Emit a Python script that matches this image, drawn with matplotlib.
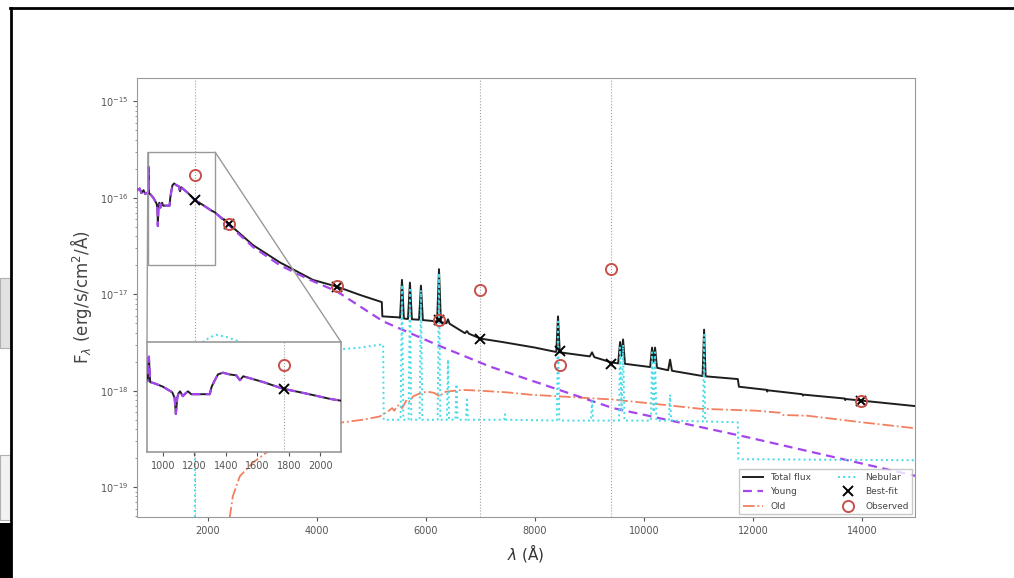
import matplotlib
matplotlib.use('Agg')
import matplotlib.pyplot as plt
from matplotlib.lines import Line2D
from matplotlib.patches import Rectangle
from mpl_toolkits.axes_grid1.inset_locator import mark_inset

# all fluxes in units of 1e-18 erg/s/cm2/A
scale = 1e-18

# UV part, shared by total and young (they overlap there)
uv_wave = [700, 750, 780, 820, 850, 880, 905, 912, 920, 950, 1000, 1060, 1075,
           1083, 1092, 1100, 1110, 1127, 1145, 1160, 1180, 1214, 1298, 1310,
           1330, 1350, 1381, 1424, 1466, 1489, 1510, 1636, 1762, 1900, 2060, 2124]
uv_flux = [120, 125, 112, 120, 110, 112, 115, 209, 112, 108, 100, 87, 76,
           51, 76, 85, 89, 79, 85, 89, 83, 83, 83, 100,
           117, 135, 141, 135, 132, 117, 129, 112, 95, 85, 74, 71]

total_wave = [2404, 2826, 3321, 3927, 4367, 4800, 5190, 5200, 5523,
              5525, 5560, 5595, 5670, 5706, 5742, 5873, 5908, 5943, 6100,
              6204, 6239, 6274, 6375, 6404, 6433, 6715, 6752, 6789,
              7000, 7400, 8000, 8390, 8422, 8454, 9005, 9046, 9087, 9394,
              9525, 9560, 9588, 9615, 9650, 10112, 10147, 10175, 10202, 10237,
              10442, 10477, 10512, 11073, 11101, 11129, 11720, 11740,
              12250, 12260, 12270, 12900, 12915, 12930, 13680, 13690, 13700,
              13982, 15000]
total_flux = [52.5, 32.4, 21.4, 14.1, 12.0, 9.8, 8.3, 5.9, 5.75,
              5.7, 14.1, 5.6, 5.55, 13.2, 5.5, 5.45, 12.3, 5.4, 5.3,
              5.2, 18.2, 5.15, 5.0, 5.5, 4.95, 3.95, 4.15, 3.9,
              3.47, 3.2, 2.8, 2.52, 5.9, 2.5, 2.27, 2.5, 2.23, 1.97,
              1.92, 3.2, 2.3, 3.4, 1.9, 1.76, 2.8, 2.0, 2.8, 1.73,
              1.63, 2.1, 1.61, 1.42, 4.3, 1.41, 1.32, 1.10,
              1.02, 0.98, 1.01, 0.92, 0.89, 0.91, 0.83, 0.80, 0.82,
              0.79, 0.69]

young_wave = [2404, 2826, 3321, 3872, 4367, 5211, 6257, 7174, 9431, 11890, 15000]
young_flux = [51, 31, 20, 14.1, 10.7, 5.25, 2.9, 1.78, 0.66, 0.33, 0.13]

old_wave = [2390, 2404, 2459, 2587, 2826, 3083, 3321, 3700, 4000, 4477,
            4844, 5000, 5150, 5284, 5380, 5420, 5468, 5520, 5560, 5651,
            5700, 5761, 5850, 6018, 6150, 6257, 6320, 6385, 6679, 6991,
            7500, 7908, 8500, 9431, 10200, 11028, 12073, 12500, 12550, 13000,
            14000, 14936]
old_flux = [0.03, 0.05, 0.081, 0.13, 0.18, 0.23, 0.28, 0.38, 0.45, 0.47,
            0.50, 0.52, 0.54, 0.60, 0.66, 0.62, 0.69, 0.72, 0.66, 0.81,
            0.77, 0.87, 0.92, 0.98, 0.95, 0.87, 0.96, 0.98, 1.02, 1.00,
            0.96, 0.91, 0.87, 0.81, 0.73, 0.65, 0.62, 0.59, 0.56, 0.55,
            0.47, 0.41]

neb_wave = [1760, 1762, 1900, 2050, 2150, 2350, 2600, 3000, 3600, 4470,
            4800, 5150, 5215, 5225, 5535, 5560, 5585, 5681, 5706, 5731,
            5883, 5908, 5933, 6214, 6239, 6264, 6384, 6404, 6424,
            6540, 6560, 6580, 6732, 6752, 6772, 7430, 7450, 7470,
            8400, 8422, 8444, 9026, 9046, 9066, 9540, 9560, 9588, 9615, 9640,
            10127, 10147, 10175, 10202, 10227, 10457, 10477, 10497,
            11081, 11101, 11121, 11720, 11730, 15000]
neb_flux = [0.001, 3.0, 3.2, 3.6, 3.8, 3.6, 3.2, 2.9, 2.7, 2.7,
            2.8, 3.0, 3.0, 0.50, 0.50, 12.5, 0.50, 0.50, 11.7, 0.50,
            0.50, 11.0, 0.50, 0.50, 16.5, 0.50, 0.50, 2.1, 0.50,
            0.50, 1.17, 0.50, 0.50, 0.81, 0.50, 0.50, 0.57, 0.50,
            0.49, 5.2, 0.49, 0.49, 0.78, 0.49, 0.49, 2.8, 0.6, 3.0, 0.49,
            0.49, 2.5, 0.6, 2.5, 0.49, 0.49, 0.91, 0.49,
            0.48, 3.8, 0.48, 0.47, 0.195, 0.19]

# photometry
phot_wave = [1770, 2385, 4367, 6240, 7000, 8460, 9400, 13980]
obs_flux = [172, 53.7, 12.3, 5.35, 11.0, 1.83, 18.2, 0.79]
fit_flux = [95, 53.7, 12.0, 5.35, 3.47, 2.58, 1.91, 0.79]

vline_wave = [1770, 7000, 9400]

c_total = '#1e1e1e'
c_young = '#a445ee'
c_old = '#f2805f'
c_neb = '#45dbe8'
c_obs = '#c8504a'
grey_txt = '#555555'

fig = plt.figure(figsize=(10.14, 5.78), dpi=100)
ax = fig.add_axes([0.1351, 0.1055, 0.7673, 0.7596])


def sed(a, full=True):
    tw = uv_wave + total_wave
    tf = [v * scale for v in uv_flux + total_flux]
    yw = uv_wave + young_wave
    yf = [v * scale for v in uv_flux + young_flux]
    h = {}
    h['total'], = a.plot(tw, tf, '-', color=c_total, lw=1.4, zorder=3)
    if full:
        h['old'], = a.plot(old_wave, [v * scale for v in old_flux], '-.',
                           color=c_old, lw=1.3, zorder=3)
    h['young'], = a.plot(yw, yf, '--', color=c_young, lw=1.6,
                         dashes=(4, 2.5), zorder=4)
    if full:
        h['neb'], = a.plot(neb_wave, [v * scale for v in neb_flux], ':',
                           color=c_neb, lw=1.4, zorder=4)
    for w in vline_wave:
        a.axvline(w, color='#a0a0a0', ls=':', lw=0.8, zorder=1)
    h['fit'], = a.plot(phot_wave, [v * scale for v in fit_flux], 'x',
                       color='black', ms=7, mew=1.4, ls='none', zorder=6)
    h['obs'], = a.plot(phot_wave, [v * scale for v in obs_flux], 'o',
                       mfc='none', mec=c_obs, ms=8, mew=1.4, ls='none', zorder=6)
    return h


h = sed(ax)
ax.set_yscale('log')
ax.set_xlim(700, 14970)
ax.set_ylim(4.9e-20, 1.75e-15)
ax.set_xticks([2000, 4000, 6000, 8000, 10000, 12000, 14000])
ax.tick_params(labelsize=7, colors=grey_txt, length=3)
ax.tick_params(which='minor', colors='#888888', length=1.5)
for s in ax.spines.values():
    s.set_color('#999999')
ax.set_xlabel(r'$\lambda$ ($\rm\AA$)', fontsize=11, color='#333333')
ax.set_ylabel(r'F$_\lambda$ (erg/s/cm$^2$/$\rm\AA$)', fontsize=12,
              color='#444444', labelpad=4)

leg = ax.legend([h['total'], h['young'], h['old'], h['neb'], h['fit'], h['obs']],
                ['Total flux', 'Young', 'Old', 'Nebular', 'Best-fit', 'Observed'],
                ncol=2, loc='lower right', fontsize=6.5, frameon=True,
                handlelength=2.2, columnspacing=3.0, borderaxespad=0.3,
                labelspacing=0.6, fancybox=False)
leg.get_frame().set_edgecolor('#bbbbbb')
for t in leg.get_texts():
    t.set_color('#444444')

# inset zoom on the UV part
axins = fig.add_axes([147 / 1014, 1 - 452 / 578, 194 / 1014, 110 / 578])
sed(axins, full=False)
axins.set_yscale('log')
axins.set_xlim(900, 2130)
axins.set_ylim(2.0e-17, 3.0e-16)
axins.set_xticks([1000, 1200, 1400, 1600, 1800, 2000])
axins.set_yticks([])
axins.set_yticks([], minor=True)
axins.tick_params(labelsize=7, colors=grey_txt, length=3)
for s in axins.spines.values():
    s.set_color('#999999')
    s.set_linewidth(1.2)
axins.set_zorder(5)
mark_inset(ax, axins, loc1=1, loc2=2, fc='none', ec='#999999', lw=1.0)

# slide frame around the picture
fig.add_artist(Rectangle((0, 230 / 578), 10 / 1014, 70 / 578, transform=fig.transFigure,
                         fc='#e2e2e2', ec='#b0b0b0', lw=0.8))
fig.add_artist(Rectangle((0, 58 / 578), 10 / 1014, 65 / 578, transform=fig.transFigure,
                         fc='#f2f2f2', ec='#b0b0b0', lw=0.8))
fig.add_artist(Rectangle((0, 0), 12 / 1014, 55 / 578, transform=fig.transFigure,
                         fc='black', ec='none'))
fig.add_artist(Line2D([10 / 1014, 1], [1 - 8 / 578, 1 - 8 / 578],
                      transform=fig.transFigure, color='black', lw=2))
fig.add_artist(Line2D([11 / 1014, 11 / 1014], [0, 1 - 8 / 578],
                      transform=fig.transFigure, color='black', lw=2))

fig.savefig('out.png', dpi=100)
